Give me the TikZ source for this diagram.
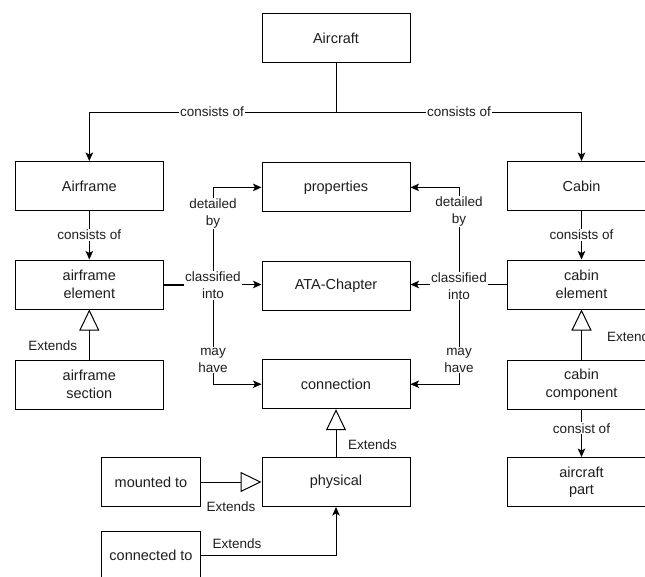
\documentclass[tikz,border=0pt]{standalone}
\usepackage{fontspec}
\setmainfont{Liberation Sans}
\usetikzlibrary{arrows.meta}
\definecolor{txt}{RGB}{30,30,30}
\begin{document}
\begin{tikzpicture}[x=1pt,y=-1pt,
  box/.style={draw, fill=white, line width=1pt, minimum width=148pt, minimum height=49pt, inner sep=0pt, align=center, text=txt, font=\fontsize{14.5}{17.5}\selectfont},
  sbox/.style={box, minimum width=99pt},
  lbl/.style={fill=white, inner sep=1pt, align=center, text=txt, font=\fontsize{13.5}{17}\selectfont},
  extlbl/.style={inner sep=0pt, text=txt, font=\fontsize{13.5}{17}\selectfont},
  conn/.style={line width=1pt},
  arr/.style={conn, -{Stealth[length=8.5pt,width=7.5pt,inset=2pt]}},
  inh/.style={conn, -{Triangle[open,length=21pt,width=20pt]}}]
\clip (0,0) rectangle (645,576);
\fill[white] (0,0) rectangle (645,576);
% nodes
\node[box] (aircraft) at (336,38) {Aircraft};
\node[box] (airframe) at (89.3,186) {Airframe};
\node[box] (properties) at (336,187.4) {properties};
\node[box] (cabin) at (581.5,186) {Cabin};
\node[box] (afelem) at (89.3,284.5) {airframe\\element};
\node[box] (ata) at (336,285.5) {ATA-Chapter};
\node[box] (cabelem) at (581.5,284.5) {cabin\\element};
\node[box] (afsec) at (89.3,384.5) {airframe\\section};
\node[box] (connection) at (336,384.2) {connection};
\node[box] (cabcomp) at (581.5,384.5) {cabin\\component};
\node[sbox] (mounted) at (151,482) {mounted to};
\node[box] (physical) at (336,482) {physical};
\node[box] (acpart) at (581.5,482) {aircraft\\part};
\node[sbox] (connected) at (151,555.5) {connected to};
% aircraft composition
\draw[arr] (aircraft.south) -- (336,112) -| (airframe.north);
\draw[arr] (aircraft.south) -- (336,112) -| (cabin.north);
\node[lbl] (c1) at (212,112) {consists of};
\node[lbl] (c2) at (459,112) {consists of};
% consists of
\draw[arr] (airframe.south) -- (afelem.north);
\node[lbl] (c3) at (89.3,235) {consists of};
\draw[arr] (cabin.south) -- (cabelem.north);
\node[lbl] (c4) at (581.5,235) {consists of};
% left relations
\draw[arr] (afelem.east) -- (213,284.5) |- (properties.west);
\draw[arr] (afelem.east) -- (afelem.east -| ata.west);
\draw[arr] (afelem.east) -- (213,284.5) |- (connection.west);
\draw[line width=2pt] (afelem.east) -- (184,284.5);
\node[lbl] (l1) at (213,213.5) {detailed\\by};
\node[lbl] (l2) at (213,285.5) {classified\\into};
\node[lbl] (l3) at (213,360) {may\\have};
% right relations
\draw[arr] (cabelem.west) -- (459,284.5) |- (properties.east);
\draw[arr] (cabelem.west) -- (cabelem.west -| ata.east);
\draw[arr] (cabelem.west) -- (459,284.5) |- (connection.east);
\node[lbl] (r1) at (459,211.5) {detailed\\by};
\node[lbl] (r2) at (459,286) {classified\\into};
\node[lbl] (r3) at (459,360) {may\\have};
% inheritance
\draw[inh] (afsec.north) -- (afelem.south);
\node[extlbl] (e1) at (52.7,346) {Extends};
\draw[inh] (cabcomp.north) -- (cabelem.south);
\node[extlbl, anchor=west] (e2) at (607,337) {Extends};
\draw[inh] (physical.north) -- (connection.south);
\node[extlbl] (e3) at (372.4,444.3) {Extends};
\draw[inh] (mounted.east) -- (physical.west);
\node[extlbl] (e4) at (231,506.7) {Extends};
\draw[arr] (connected.east) -| (physical.south);
\node[extlbl] (e5) at (237,543.3) {Extends};
% consist of
\draw[arr] (cabcomp.south) -- (acpart.north);
\node[lbl] (c5) at (581.5,428.3) {consist of};
\end{tikzpicture}
\end{document}
